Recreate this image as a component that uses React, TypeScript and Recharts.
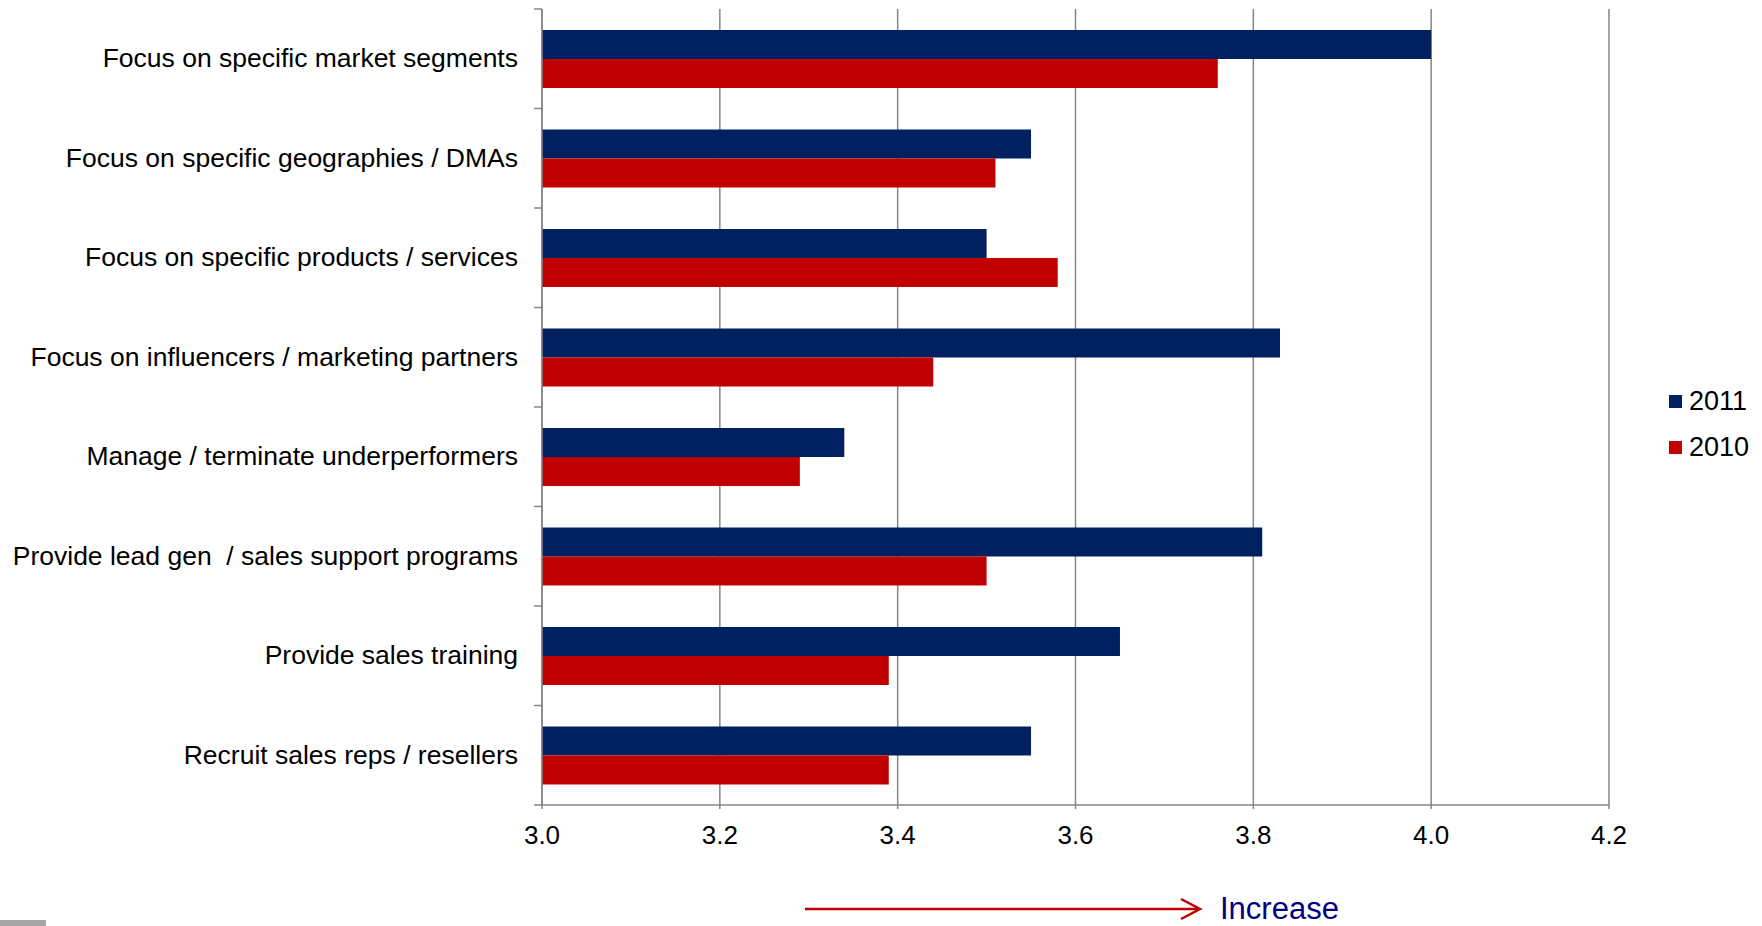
import React from "react";
import { BarChart, Bar, XAxis, YAxis, CartesianGrid } from "recharts";

const categories = [
  "Focus on specific market segments",
  "Focus on specific geographies / DMAs",
  "Focus on specific products / services",
  "Focus on influencers / marketing partners",
  "Manage / terminate underperformers",
  "Provide lead gen  / sales support programs",
  "Provide sales training",
  "Recruit sales reps / resellers",
];

const values2011 = [4.0, 3.55, 3.5, 3.83, 3.34, 3.81, 3.65, 3.55];
const values2010 = [3.76, 3.51, 3.58, 3.44, 3.29, 3.5, 3.39, 3.39];

const xTicks = [3.0, 3.2, 3.4, 3.6, 3.8, 4.0, 4.2];

const series = [
  { key: "y2011", name: "2011", color: "#002060" },
  { key: "y2010", name: "2010", color: "#C00000" },
];

const rows = categories.map((name, i) => ({
  name,
  y2011: values2011[i],
  y2010: values2010[i],
}));

const FONT = "'Liberation Sans', Arial, sans-serif";
const AXIS_GRAY = "#868686";
const TICK_SIZE = 8;
const TICK_MARGIN = 16;

// category label plus the small tick marks that sit between the bands
const CategoryTick = (props: any) => {
  const { x, y, payload, index } = props;
  const half = payload?.offset ?? 49.75;
  const lx1 = x + TICK_MARGIN;
  const lx2 = lx1 + TICK_SIZE;
  return (
    <g>
      <line x1={lx1} x2={lx2} y1={y - half} y2={y - half} stroke={AXIS_GRAY} strokeWidth={1.5} />
      {index === categories.length - 1 && (
        <line x1={lx1} x2={lx2} y1={y + half} y2={y + half} stroke={AXIS_GRAY} strokeWidth={1.5} />
      )}
      <text
        x={x}
        y={y}
        dy="0.32em"
        textAnchor="end"
        fontFamily={FONT}
        fontSize={26.5}
        fill="#000"
        style={{ whiteSpace: "pre" }}
      >
        {payload.value}
      </text>
    </g>
  );
};

export default function App() {
  return (
    <div
      style={{
        position: "absolute",
        left: 0,
        top: 0,
        width: 1762,
        height: 926,
        background: "#fff",
        overflow: "hidden",
        fontFamily: FONT,
      }}
    >
      <BarChart
        width={1762}
        height={926}
        data={rows}
        layout="vertical"
        margin={{ top: 9, right: 153, bottom: 0, left: 0 }}
        barCategoryGap="21%"
        barGap={0}
      >
        <CartesianGrid horizontal={false} vertical stroke={AXIS_GRAY} strokeWidth={1.5} />
        <XAxis
          type="number"
          domain={[3.0, 4.2]}
          ticks={xTicks}
          tickFormatter={(v: number) => v.toFixed(1)}
          height={121}
          axisLine={{ stroke: AXIS_GRAY, strokeWidth: 1.5 }}
          tickLine={{ stroke: AXIS_GRAY, strokeWidth: 1.5 }}
          tickSize={4}
          tickMargin={17}
          tick={{ fontFamily: FONT, fontSize: 26, fill: "#000" }}
          interval={0}
        />
        <YAxis
          type="category"
          dataKey="name"
          width={542}
          axisLine={{ stroke: AXIS_GRAY, strokeWidth: 1.5 }}
          tickLine={false}
          tickSize={TICK_SIZE}
          tickMargin={TICK_MARGIN}
          tick={<CategoryTick />}
          interval={0}
        />
        {series.map((s) => (
          <Bar key={s.key} dataKey={s.key} name={s.name} fill={s.color} isAnimationActive={false} />
        ))}
      </BarChart>

      {/* legend */}
      <div style={{ position: "absolute", left: 1669, top: 378 }}>
        {series.map((s) => (
          <div key={s.key} style={{ display: "flex", alignItems: "center", height: 46 }}>
            <div style={{ width: 13, height: 13, background: s.color, marginRight: 7 }} />
            <span style={{ fontSize: 27, color: "#000", lineHeight: "30px" }}>{s.name}</span>
          </div>
        ))}
      </div>

      {/* direction arrow below the axis */}
      <svg
        width={1762}
        height={926}
        style={{ position: "absolute", left: 0, top: 0, pointerEvents: "none" }}
      >
        <line x1={805} x2={1199} y1={909} y2={909} stroke="#C00000" strokeWidth={2.5} />
        <polyline
          points="1181,899 1200,909 1181,919"
          fill="none"
          stroke="#C00000"
          strokeWidth={2.5}
        />
        <text x={1220} y={919} fontFamily={FONT} fontSize={31} fill="#000080">
          Increase
        </text>
        <rect x={0} y={920} width={46} height={6} fill="#a6a6a6" />
      </svg>
    </div>
  );
}
